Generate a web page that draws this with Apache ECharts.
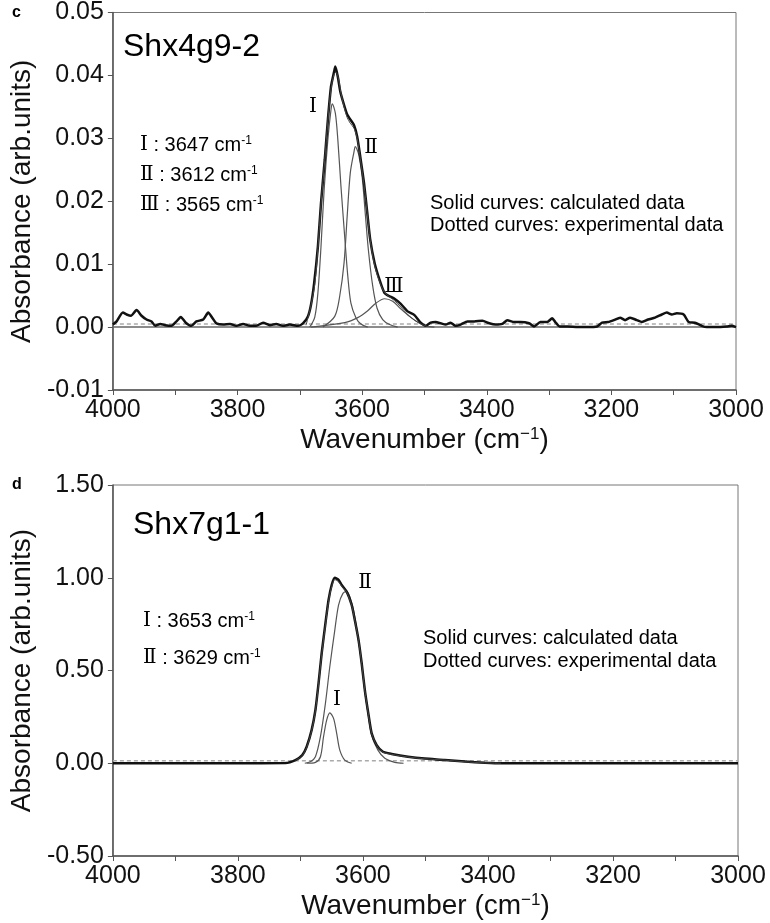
<!DOCTYPE html>
<html>
<head>
<meta charset="utf-8">
<script src="https://cdn.jsdelivr.net/npm/echarts@6/dist/echarts.min.js"></script>
<style>
  html, body { margin: 0; padding: 0; background: #fff; }
  #chart { width: 770px; height: 923px; }
</style>
</head>
<body>
<div id="chart"></div>
<script>
// ---- panel c : Shx4g9-2 ([wavenumber, absorbance]) ----
const expC = [
  [4000, 0.0004], [3994, 0.0009], [3984, 0.0023], [3978, 0.0020], [3971, 0.0018], [3962, 0.0027],
  [3954, 0.0018], [3946, 0.0012], [3938, 0.0009], [3932, 0.0002], [3924, 0.0005], [3916, 0.0003],
  [3906, 0.0002], [3898, 0.0009], [3891, 0.0016], [3883, 0.0007], [3874, 0.0002], [3866, 0.0009],
  [3855, 0.0012], [3847, 0.0023], [3840, 0.0014], [3834, 0.0006], [3823, 0.0004], [3812, 0.0005],
  [3802, 0.0002], [3791, 0.0005], [3780, 0.0002], [3770, 0.0002], [3759, 0.0007], [3748, 0.0003],
  [3738, 0.0005], [3727, 0.0002], [3716, 0.0004], [3703, 0.0002], [3695, 0.0006], [3687, 0.0017],
  [3682, 0.0036], [3677, 0.0070], [3671, 0.0128], [3666, 0.0197], [3660, 0.0266], [3655, 0.0329],
  [3650, 0.0382], [3645, 0.0406], [3643, 0.0414], [3639, 0.0398], [3635, 0.0374], [3629, 0.0353],
  [3624, 0.0338], [3619, 0.0330], [3613, 0.0321], [3608, 0.0303], [3603, 0.0271], [3597, 0.0229],
  [3592, 0.0184], [3587, 0.0139], [3580, 0.0102], [3572, 0.0075], [3564, 0.0054], [3556, 0.0049],
  [3548, 0.0045], [3538, 0.0037], [3527, 0.0025], [3516, 0.0019], [3506, 0.0007], [3498, 0.0002],
  [3490, 0.0007], [3482, 0.0008], [3474, 0.0006], [3466, 0.0004], [3458, 0.0007], [3450, 0.0002],
  [3442, 0.0004], [3431, 0.0009], [3420, 0.0009], [3407, 0.0010], [3396, 0.0006], [3386, 0.0004],
  [3375, 0.0005], [3367, 0.0011], [3356, 0.0008], [3346, 0.0008], [3332, 0.0006], [3324, 0.0001],
  [3314, 0.0008], [3303, 0.0008], [3295, 0.0014], [3290, 0.0008], [3283, 0.0001], [3270, 0.0001],
  [3254, 0], [3239, 0], [3223, 0.0001], [3215, 0.0007], [3205, 0.0008], [3196, 0.0011],
  [3186, 0.0015], [3178, 0.0011], [3170, 0.0015], [3159, 0.0011], [3151, 0.0008], [3141, 0.0012],
  [3130, 0.0015], [3119, 0.0020], [3111, 0.0023], [3103, 0.0020], [3095, 0.0022], [3084, 0.0020],
  [3076, 0.0008], [3066, 0.0007], [3055, 0.0002], [3047, 0], [3031, 0], [3015, 0.0001],
  [3007, 0.0002], [3000, 0]
]
const calcC = [
  [3690, 0.0003], [3682, 0.0035], [3676, 0.0068], [3671, 0.0125], [3666, 0.0195], [3660, 0.0265],
  [3655, 0.0328], [3650, 0.0378], [3645, 0.0402], [3642, 0.0405], [3638, 0.0395], [3634, 0.0372],
  [3629, 0.0350], [3624, 0.0333], [3619, 0.0324], [3613, 0.0316], [3608, 0.0300], [3603, 0.0268],
  [3597, 0.0226], [3592, 0.0182], [3587, 0.0138], [3580, 0.0098], [3572, 0.0072], [3564, 0.0055],
  [3556, 0.0048], [3548, 0.0042], [3538, 0.0032], [3527, 0.0020], [3516, 0.0011], [3506, 0.0005],
  [3495, 0.0001]
]
const peak1C = [
  [3684, 0], [3676, 0.0016], [3671, 0.0054], [3666, 0.0128], [3661, 0.0218], [3655, 0.0298],
  [3650, 0.0345], [3648, 0.0355], [3643, 0.0340], [3639, 0.0298], [3634, 0.0224], [3628, 0.0144],
  [3623, 0.0081], [3618, 0.0038], [3610, 0.0015], [3602, 0.0005], [3591, 0]
]
const peak2C = [
  [3663, 0], [3644, 0.0017], [3636, 0.0049], [3629, 0.0102], [3624, 0.0176], [3619, 0.0245],
  [3613, 0.0279], [3611, 0.0287], [3606, 0.0276], [3600, 0.0239], [3595, 0.0181], [3590, 0.0123],
  [3583, 0.0065], [3576, 0.0030], [3567, 0.0012], [3556, 0.0004], [3543, 0]
]
const peak3C = [
  [3682, 0], [3628, 0.0007], [3607, 0.0015], [3591, 0.0026], [3578, 0.0038], [3564, 0.0045],
  [3551, 0.0041], [3538, 0.0029], [3524, 0.0017], [3511, 0.0008], [3498, 0.0002], [3484, 0]
]
const zeroC = [[4000, 0], [3000, 0]]
const dashC = [[4000, 0.0005], [3000, 0.0005]]

// ---- panel d : Shx7g1-1 ----
const expD = [
  [4000, 0], [3800, 0], [3724, 0.001], [3708, 0.017], [3697, 0.044], [3690, 0.089], [3682, 0.18],
  [3676, 0.287], [3671, 0.431], [3666, 0.593], [3660, 0.754], [3655, 0.88], [3650, 0.961],
  [3645, 1.0], [3639, 0.988], [3634, 0.961], [3626, 0.925], [3618, 0.853], [3613, 0.772],
  [3607, 0.664], [3602, 0.539], [3597, 0.395], [3591, 0.26], [3586, 0.161], [3578, 0.098],
  [3568, 0.062], [3554, 0.05], [3528, 0.035], [3501, 0.025], [3469, 0.018], [3437, 0.009],
  [3405, 0.003], [3379, 0], [3000, 0]
]
const calcD = [
  [3708, 0.015], [3697, 0.042], [3690, 0.086], [3682, 0.176], [3676, 0.283], [3671, 0.425],
  [3666, 0.585], [3660, 0.745], [3655, 0.872], [3650, 0.952], [3645, 0.99], [3639, 0.978],
  [3634, 0.955], [3626, 0.922], [3618, 0.85], [3613, 0.77], [3607, 0.662], [3602, 0.537],
  [3597, 0.393], [3591, 0.258], [3586, 0.16], [3578, 0.097], [3568, 0.06], [3554, 0.048],
  [3528, 0.034], [3501, 0.024], [3469, 0.017], [3437, 0.008], [3405, 0.002], [3379, 0]
]
const peak1D = [
  [3690, 0], [3676, 0.005], [3668, 0.035], [3663, 0.143], [3658, 0.233], [3653, 0.272],
  [3647, 0.242], [3642, 0.161], [3637, 0.071], [3629, 0.017], [3618, 0]
]
const peak2D = [
  [3693, 0], [3684, 0.008], [3676, 0.035], [3668, 0.143], [3660, 0.323], [3653, 0.52],
  [3645, 0.718], [3639, 0.853], [3632, 0.916], [3626, 0.925], [3621, 0.898], [3615, 0.826],
  [3607, 0.66], [3602, 0.535], [3597, 0.39], [3591, 0.25], [3586, 0.15], [3576, 0.071],
  [3565, 0.027], [3549, 0.005], [3535, 0]
]
const dashD = [[4000, 0.014], [3000, 0.014]]

const xTicks = [3000, 4000, 100]   // min, max, step (labels every 200)
const yTicksC = [-0.01, 0.05, 0.01]
const yTicksD = [-0.5, 1.5, 0.5]

const FONT = 'Liberation Sans, Arial, sans-serif'
const SERIF = 'DejaVu Serif, Liberation Serif, Noto Sans CJK SC, serif'
const AXIS_COLOR = '#555'

function xAxisOf(gridIndex) {
  return {
    type: 'value',
    gridIndex: gridIndex,
    inverse: true,
    min: xTicks[0],
    max: xTicks[1],
    interval: xTicks[2],
    name: '{a|Wavenumber (cm}{s|−1}{a|)}',
    nameLocation: 'middle',
    nameGap: 36,
    nameTextStyle: {
      rich: {
        a: { fontFamily: FONT, fontSize: 28, color: '#111' },
        s: { fontFamily: FONT, fontSize: 17, color: '#111', verticalAlign: 'top' }
      }
    },
    axisLine: { show: true, onZero: false, lineStyle: { color: AXIS_COLOR, width: 1.5 } },
    axisTick: { show: true, inside: false, length: 5, lineStyle: { color: AXIS_COLOR } },
    axisLabel: {
      margin: 8,
      color: '#111',
      fontFamily: FONT,
      fontSize: 25,
      formatter: v => (v % 200 === 0 ? String(v) : '')
    },
    splitLine: { show: false }
  }
}

function yAxisOf(gridIndex, ticks) {
  return {
    type: 'value',
    gridIndex: gridIndex,
    min: ticks[0],
    max: ticks[1],
    interval: ticks[2],
    name: 'Absorbance (arb.units)',
    nameLocation: 'middle',
    nameGap: 75,
    nameTextStyle: { fontFamily: FONT, fontSize: 28, color: '#111' },
    axisLine: { show: true, onZero: false, lineStyle: { color: AXIS_COLOR, width: 1.5 } },
    axisTick: { show: true, inside: false, length: 5, lineStyle: { color: AXIS_COLOR } },
    axisLabel: {
      margin: 9,
      color: '#111',
      fontFamily: FONT,
      fontSize: 25,
      formatter: v => v.toFixed(2)
    },
    splitLine: { show: false }
  }
}

function lineSeries(data, idx, color, width, smooth, type) {
  return {
    type: 'line',
    xAxisIndex: idx,
    yAxisIndex: idx,
    data: data,
    showSymbol: false,
    smooth: smooth,
    silent: true,
    animation: false,
    lineStyle: { color: color, width: width, type: type || 'solid' }
  }
}

function label(x, y, rich, text, align) {
  return {
    type: 'text',
    x: x,
    y: y,
    style: {
      text: text,
      rich: rich,
      align: align || 'left',
      verticalAlign: 'middle'
    }
  }
}

const annRich = {
  r: { fontFamily: SERIF, fontSize: 20, color: '#666' },
  t: { fontFamily: FONT, fontSize: 20, color: '#111' },
  s: { fontFamily: FONT, fontSize: 12, color: '#111', verticalAlign: 'top' }
}
const noteRich = { t: { fontFamily: FONT, fontSize: 20, color: '#111' } }
const titleRich = { t: { fontFamily: FONT, fontSize: 32, color: '#111' } }
const panelRich = { t: { fontFamily: FONT, fontSize: 16, fontWeight: 'bold', color: '#111' } }
const romanRich = { r: { fontFamily: SERIF, fontSize: 20, color: '#666' } }

const option = {
  backgroundColor: '#fff',
  animation: false,
  grid: [
    { left: 111, top: 12, width: 625, height: 378, show: true, borderColor: '#777', borderWidth: 1 },
    { left: 110, top: 485, width: 628, height: 371, show: true, borderColor: '#777', borderWidth: 1 }
  ],
  xAxis: [xAxisOf(0), xAxisOf(1)],
  yAxis: [yAxisOf(0, yTicksC), yAxisOf(1, yTicksD)],
  series: [
    lineSeries(dashC, 0, '#aaa', 1.5, false, [4, 3]),
    lineSeries(zeroC, 0, '#666', 1.5, false),
    lineSeries(peak3C, 0, '#555', 1.2, 0.3),
    lineSeries(peak2C, 0, '#555', 1.2, 0.3),
    lineSeries(peak1C, 0, '#555', 1.2, 0.3),
    lineSeries(expC, 0, '#111', 2.5, 0.2),
    lineSeries(calcC, 0, '#444', 1, 0.3),

    lineSeries(dashD, 1, '#aaa', 1.5, false, [4, 3]),
    lineSeries(peak1D, 1, '#555', 1.2, 0.3),
    lineSeries(peak2D, 1, '#555', 1.2, 0.3),
    lineSeries(expD, 1, '#111', 2.5, 0.2),
    lineSeries(calcD, 1, '#444', 1, 0.3)
  ],
  graphic: [
    label(12, 13, panelRich, '{t|c}'),
    label(123, 47, titleRich, '{t|Shx4g9-2}'),
    label(140, 145, annRich, '{r|Ⅰ}{t| : 3647 cm}{s|-1}'),
    label(140, 175, annRich, '{r|Ⅱ}{t| : 3612 cm}{s|-1}'),
    label(140, 205, annRich, '{r|Ⅲ}{t| : 3565 cm}{s|-1}'),
    label(430, 203, noteRich, '{t|Solid curves: calculated data}'),
    label(430, 225, noteRich, '{t|Dotted curves: experimental data}'),
    label(313, 107, romanRich, '{r|Ⅰ}', 'center'),
    label(371, 148, romanRich, '{r|Ⅱ}', 'center'),
    label(394, 287, romanRich, '{r|Ⅲ}', 'center'),

    label(12, 485, panelRich, '{t|d}'),
    label(133, 525, titleRich, '{t|Shx7g1-1}'),
    label(143, 621, annRich, '{r|Ⅰ}{t| : 3653 cm}{s|-1}'),
    label(143, 658, annRich, '{r|Ⅱ}{t| : 3629 cm}{s|-1}'),
    label(423, 638, noteRich, '{t|Solid curves: calculated data}'),
    label(423, 661, noteRich, '{t|Dotted curves: experimental data}'),
    label(365, 583, romanRich, '{r|Ⅱ}', 'center'),
    label(337, 700, romanRich, '{r|Ⅰ}', 'center')
  ]
}

const chart = echarts.init(document.getElementById('chart'), null, { renderer: 'canvas' })
chart.setOption(option)
</script>
</body>
</html>
